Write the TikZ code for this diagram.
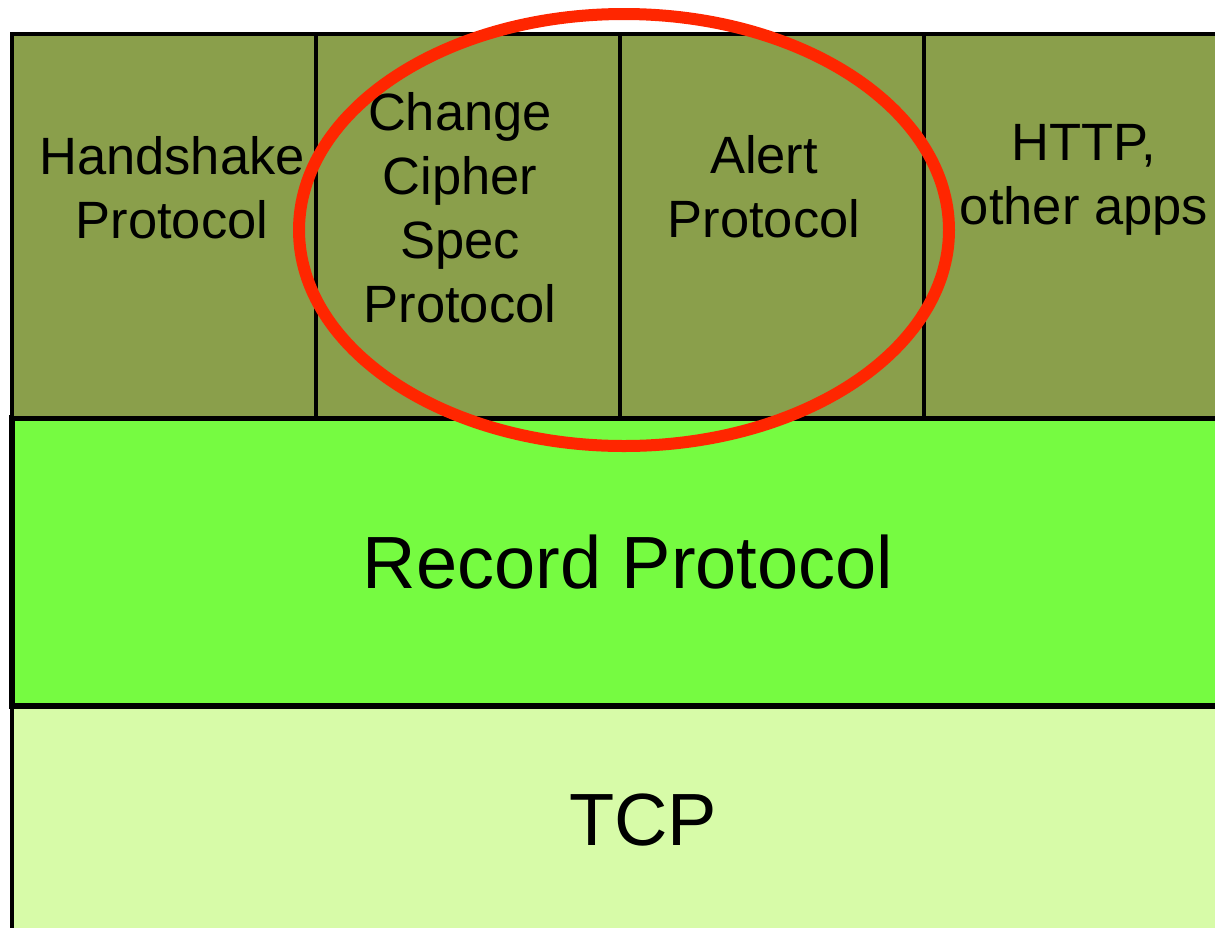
\documentclass[tikz,border=0pt]{standalone}
\usepackage{fontspec}
\setmainfont{Liberation Sans}
\definecolor{topolive}{RGB}{138,159,75}
\definecolor{recgreen}{RGB}{118,251,65}
\definecolor{tcpgreen}{RGB}{215,251,168}
\definecolor{ringred}{RGB}{255,38,0}
\begin{document}
\begin{tikzpicture}[x=1pt,y=-1pt,
  layer/.style={draw=black, rectangle, inner sep=0pt, line width=4.5pt},
  toplayer/.style={layer, fill=topolive, minimum width=304pt, minimum height=384pt},
  smalltext/.style={font=\fontsize{52.5}{64}\selectfont, align=center, anchor=base, inner sep=0pt},
  bigtext/.style={font=\fontsize{74}{88}\selectfont, anchor=base, inner sep=0pt}]
\useasboundingbox (0,0) rectangle (1215,927);
\fill[white] (0,0) rectangle (1215,927);
\clip (0,0) rectangle (1215,927);
% layers
\node[layer, fill=tcpgreen, minimum width=1232pt, minimum height=260pt] (tcp) at (628,836) {};
\node[layer, fill=recgreen, minimum width=1232pt, minimum height=288pt, line width=5.5pt] (rec) at (628,562) {};
\node[toplayer] (hs) at (164,226) {};
\node[toplayer] (ccs) at (468,226) {};
\node[toplayer] (al) at (772,226) {};
\node[toplayer, minimum width=320pt] (ht) at (1084,226) {};
% texts (anchor base = baseline of last line)
\node[smalltext] (hst) at (172,238) {Handshake\\Protocol};
\node[smalltext] (ccst) at (460,322) {Change\\Cipher\\Spec\\Protocol};
\node[smalltext] (alt) at (764,237) {Alert\\Protocol};
\node[smalltext] (htt) at (1084,224) {HTTP,\\other apps};
\node[bigtext] (rect) at (628,588) {Record Protocol};
\node[bigtext] (tcpt) at (643,845) {TCP};
% red ring
\draw[ringred, line width=12pt] (624,230) ellipse [x radius=325, y radius=216];
\end{tikzpicture}
\end{document}
